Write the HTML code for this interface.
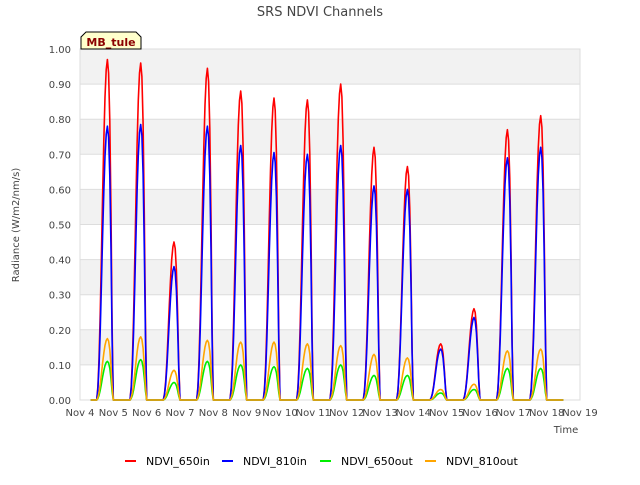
<!DOCTYPE html>
<html><head><meta charset="utf-8"><style>
body{margin:0;background:#fff;font-family:"Liberation Sans","DejaVu Sans",sans-serif;}
svg text{font-family:"DejaVu Sans","Liberation Sans",sans-serif;}
</style></head><body>
<svg id="chart" width="640" height="480" viewBox="0 0 640 480">
<text x="320" y="16" text-anchor="middle" font-size="13" fill="#444">SRS NDVI Channels</text>
<g id="grid"></g>
<g id="series"></g>
<g id="axes"></g>
<g>
<path d="M81,49 L81,37 L86,32 L136,32 L141,37 L141,49 Z" fill="#ffffcc" stroke="#000" stroke-width="1"/>
<text x="111" y="46" text-anchor="middle" font-size="11" font-weight="bold" fill="#8b0000">MB_tule</text>
</g>
<text x="19" y="225" text-anchor="middle" font-size="10" fill="#444" transform="rotate(-90 19 225)">Radiance (W/m2/nm/s)</text>
<text x="566" y="433" text-anchor="middle" font-size="10" fill="#444">Time</text>
<g id="legend"></g>
</svg>
<script>
const days=["Nov 4","Nov 5","Nov 6","Nov 7","Nov 8","Nov 9","Nov 10","Nov 11","Nov 12","Nov 13","Nov 14","Nov 15","Nov 16","Nov 17","Nov 18","Nov 19"];
const yTicks=[0,0.1,0.2,0.3,0.4,0.5,0.6,0.7,0.8,0.9,1.0];
const peak650in=[0.97,0.96,0.45,0.945,0.88,0.86,0.855,0.90,0.72,0.665,0.16,0.26,0.77,0.81];
const peak810in=[0.78,0.785,0.38,0.78,0.725,0.705,0.70,0.725,0.61,0.60,0.145,0.235,0.69,0.72];
const peak650out=[0.11,0.115,0.05,0.11,0.10,0.095,0.09,0.10,0.07,0.07,0.02,0.03,0.09,0.09];
const peak810out=[0.175,0.18,0.085,0.17,0.165,0.165,0.16,0.155,0.13,0.12,0.03,0.045,0.14,0.145];
const profile=[0,0.04,0.12,0.25,0.42,0.6,0.76,0.89,0.97,1,0.96,0.82,0.55,0.22,0];
const NS="http://www.w3.org/2000/svg";
const L=80,R=580,T=49,B=400;
const xs=d=>L+(d)/(days.length-1)*(R-L);
const ys=v=>B-v*(B-T);
function mk(tag,attrs,parent){const e=document.createElementNS(NS,tag);for(const k in attrs)e.setAttribute(k,attrs[k]);parent.appendChild(e);return e;}
const grid=document.getElementById('grid'),axes=document.getElementById('axes'),ser=document.getElementById('series'),leg=document.getElementById('legend');
for(let i=0;i<yTicks.length-1;i++){
 if((yTicks.length-2-i)%2===0){const r=mk('rect',{x:L,y:ys(yTicks[i+1]),width:R-L,height:ys(yTicks[i])-ys(yTicks[i+1]),fill:'#f2f2f2'},grid);
 
 }
}
yTicks.forEach(v=>{
 const l=mk('line',{x1:L,x2:R,y1:ys(v),y2:ys(v),stroke:'#ddd','stroke-width':1},grid);
 
 
 const t=mk('text',{x:L-9,y:ys(v)+4,'text-anchor':'end','font-size':10,fill:'#444'},axes);t.textContent=v.toFixed(2);
 
 
});
mk('rect',{x:L,y:T,width:R-L,height:B-T,fill:'none',stroke:'#ddd'},grid);
days.forEach((d,i)=>{
 const t=mk('text',{x:xs(i),y:B+16,'text-anchor':'middle','font-size':10,fill:'#444'},axes);t.textContent=d;
 
 
});
function build(peaks){
 let pts=[[xs(0.32),ys(0)]];
 peaks.forEach((p,i)=>{
  const s=i+0.5,e=i+1.0;
  profile.forEach((f,j)=>{pts.push([xs(s+(e-s)*j/(profile.length-1)),ys(p*f)]);});
 });
 pts.push([xs(14.5),ys(0)]);
 return pts.map((q,i)=>(i?'L':'M')+q[0].toFixed(1)+','+q[1].toFixed(1)).join('');
}
const series=[["NDVI_650in",peak650in,"#ff0000"],["NDVI_810in",peak810in,"#0000ff"],["NDVI_650out",peak650out,"#00ee00"],["NDVI_810out",peak810out,"#ffa500"]];
series.forEach(s=>{
 const p=mk('path',{d:build(s[1]),fill:'none',stroke:s[2],'stroke-width':1.6,'stroke-linejoin':'round'},ser);
 
 
});
const lx=[125,222,320,425];
series.forEach((s,i)=>{
 const g=mk('g',{},leg);
 
 
 mk('line',{x1:lx[i],x2:lx[i]+11,y1:461,y2:461,stroke:s[2],'stroke-width':2},g);
 const t=mk('text',{x:lx[i]+21,y:465,'font-size':11,fill:'#000'},g);t.textContent=s[0];
});
</script>
</body></html>
